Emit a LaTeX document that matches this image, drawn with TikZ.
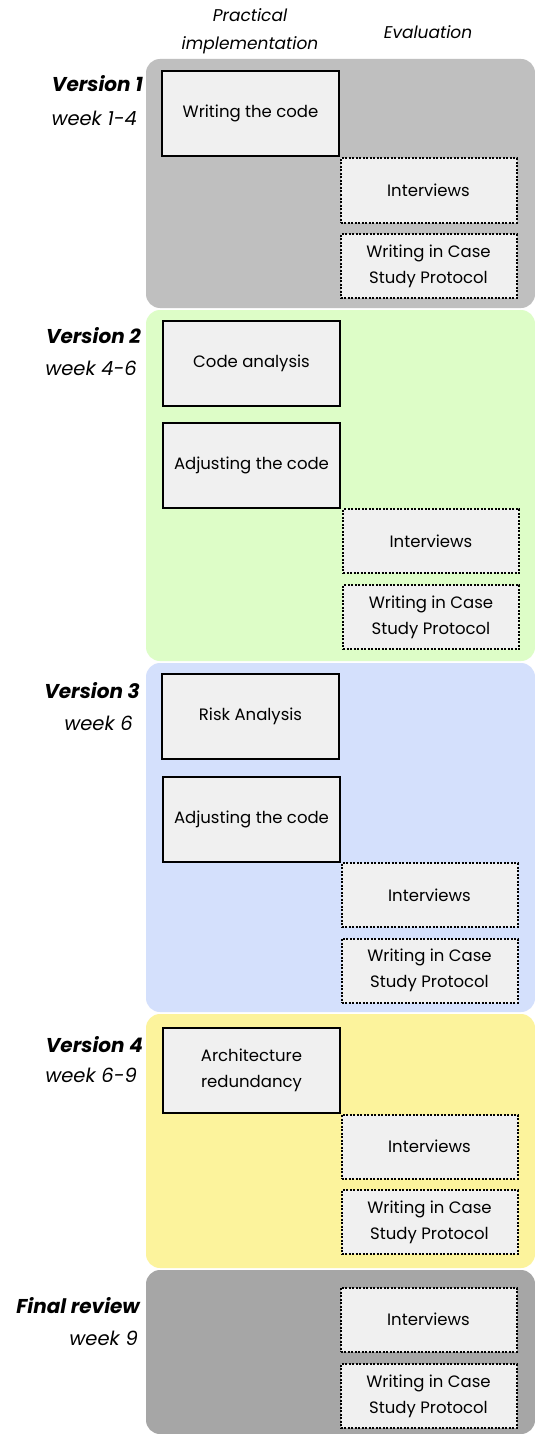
\documentclass[tikz,border=0pt]{standalone}
\usepackage{fontspec}
\setmainfont{Poppins}
\definecolor{pgray}{HTML}{BFBFBF}
\definecolor{pgreen}{HTML}{DDFDC7}
\definecolor{pblue}{HTML}{D4E0FC}
\definecolor{pyellow}{HTML}{FCF39C}
\definecolor{pdark}{HTML}{A6A6A6}
\definecolor{boxfill}{HTML}{F0F0F0}
\begin{document}
\begin{tikzpicture}[x=1pt,y=-1pt,
  panel/.style={rounded corners=14pt},
  impl/.style={draw=black, line width=2pt, fill=boxfill, minimum width=177pt, minimum height=85pt, inner sep=0pt, align=center, font=\fontsize{16.5}{26}\selectfont},
  evalbox/.style={draw=black, line width=2pt, dash pattern=on 2pt off 1.5pt, fill=boxfill, minimum width=176pt, minimum height=64pt, inner sep=0pt, align=center, font=\fontsize{16.5}{26}\selectfont},
  ver/.style={anchor=base east, inner sep=0pt, font=\fontsize{20}{24}\selectfont\bfseries\itshape},
  wk/.style={anchor=base east, inner sep=0pt, font=\fontsize{19.5}{24}\selectfont\itshape},
  head/.style={align=center, inner sep=0pt, font=\fontsize{17}{28}\selectfont\itshape}
]
\useasboundingbox (0,0) rectangle (535,1434);
\fill[white] (0,0) rectangle (535,1434);
% panels
\fill[pgray,panel] (146,59) rectangle (535,308);
\fill[pgreen,panel] (146,310) rectangle (535,661);
\fill[pblue,panel] (146,663) rectangle (535,1012);
\fill[pyellow,panel] (146,1014) rectangle (535,1268);
\fill[pdark,panel] (146,1270) rectangle (535,1434);
% headers
\node[head] (hp) at (250,31) {Practical\\implementation};
\node[head] (he) at (428,32) {Evaluation};
% version 1
\node[ver] (v1) at (143,92) {Version 1};
\node[wk] (w1) at (137,126) {week 1-4};
\node[impl] (c1) at (250.5,113.5) {Writing the code};
\node[evalbox] (i1) at (428.5,190.5) {Interviews};
\node[evalbox] (p1) at (428.5,266) {Writing in Case\\Study Protocol};
% version 2
\node[ver] (v2) at (141,343) {Version 2};
\node[wk] (w2) at (137,375) {week 4-6};
\node[impl] (a2) at (251.5,363) {Code analysis};
\node[impl] (b2) at (251.5,465.5) {Adjusting the code};
\node[evalbox] (i2) at (431,541) {Interviews};
\node[evalbox] (p2) at (431,617) {Writing in Case\\Study Protocol};
% version 3
\node[ver] (v3) at (140,698) {Version 3};
\node[wk] (w3) at (133,730) {week 6};
\node[impl] (a3) at (250.5,716.5) {Risk Analysis};
\node[impl] (b3) at (251.5,819) {Adjusting the code};
\node[evalbox] (i3) at (429.5,895) {Interviews};
\node[evalbox] (p3) at (429.5,970.5) {Writing in Case\\Study Protocol};
% version 4
\node[ver] (v4) at (143,1052) {Version 4};
\node[wk] (w4) at (137,1082) {week 6-9};
\node[impl] (a4) at (251.5,1070.5) {Architecture\\redundancy};
\node[evalbox] (i4) at (429.5,1146.5) {Interviews};
\node[evalbox] (p4) at (429.5,1222) {Writing in Case\\Study Protocol};
% final review
\node[ver] (v5) at (140,1313) {Final review};
\node[wk] (w5) at (138,1345) {week 9};
\node[evalbox] (i5) at (428.5,1319.5) {Interviews};
\node[evalbox] (p5) at (428.5,1396) {Writing in Case\\Study Protocol};
\end{tikzpicture}
\end{document}
